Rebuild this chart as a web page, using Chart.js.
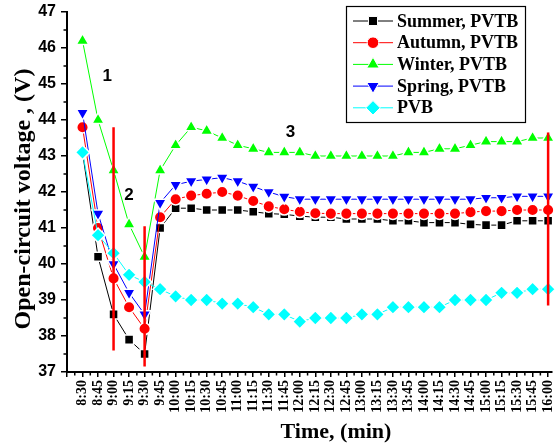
<!DOCTYPE html>
<html>
<head>
<meta charset="utf-8">
<script src="https://cdn.jsdelivr.net/npm/chart.js@4.4.0/dist/chart.umd.min.js"></script>
<style>
  html, body { margin: 0; padding: 0; background: #fff; }
</style>
</head>
<body>
<canvas id="myChart" width="555" height="448"></canvas>
<script>
// time of day, one reading every 15 minutes
const times = ['8:30', '8:45', '9:00', '9:15', '9:30', '9:45', '10:00', '10:15', '10:30', '10:45',
  '11:00', '11:15', '11:30', '11:45', '12:00', '12:15', '12:30', '12:45', '13:00', '13:15',
  '13:30', '13:45', '14:00', '14:15', '14:30', '14:45', '15:00', '15:15', '15:30', '15:45', '16:00'];

// open-circuit voltage (V)
const summer = [43.1, 40.2, 38.6, 37.9, 37.5, 41.0, 41.55, 41.55, 41.5, 41.5, 41.5, 41.45, 41.4, 41.38,
  41.33, 41.3, 41.3, 41.25, 41.25, 41.25, 41.2, 41.2, 41.15, 41.15, 41.15, 41.1, 41.08, 41.08, 41.2, 41.2, 41.2];
const autumn = [43.8, 41.0, 39.6, 38.8, 38.2, 41.3, 41.8, 41.9, 41.95, 42.0, 41.9, 41.75, 41.6, 41.52,
  41.45, 41.41, 41.4, 41.4, 41.4, 41.4, 41.4, 41.4, 41.4, 41.4, 41.4, 41.44, 41.47, 41.47, 41.5, 41.5, 41.5];
const winter = [46.2, 44.0, 42.6, 41.1, 40.2, 42.6, 43.3, 43.8, 43.7, 43.5, 43.3, 43.2, 43.1, 43.1,
  43.1, 43.0, 43.0, 43.0, 43.0, 43.0, 43.0, 43.1, 43.1, 43.2, 43.2, 43.3, 43.4, 43.4, 43.4, 43.5, 43.5];
const spring = [44.2, 41.4, 40.0, 39.2, 38.6, 41.7, 42.2, 42.3, 42.35, 42.4, 42.3, 42.15, 42.0, 41.87,
  41.8, 41.8, 41.8, 41.8, 41.8, 41.8, 41.8, 41.8, 41.8, 41.8, 41.8, 41.8, 41.84, 41.84, 41.88, 41.88, 41.88];
const pvb = [43.1, 40.8, 40.3, 39.7, 39.5, 39.3, 39.1, 39.0, 39.0, 38.9, 38.9, 38.8, 38.6, 38.6,
  38.4, 38.5, 38.5, 38.5, 38.6, 38.6, 38.8, 38.8, 38.8, 38.8, 39.0, 39.0, 39.0, 39.2, 39.2, 39.3, 39.3];

// red vertical markers (position on time axis, top and bottom voltage)
const markerX = [2, 4, 30];
const markerTop = [43.8, 41.05, 43.65];
const markerBottom = [37.6, 37.15, 38.85];

// region numbers
const noteText = ['1', '2', '3'];
const noteX = [1.6, 3.0, 13.4];
const noteY = [45.2, 41.9, 43.65];

const serif = 'Liberation Serif, Times New Roman, serif';
const sans = 'Liberation Sans, Arial, sans-serif';

function series(label, values, color, style, radius, rotation, order) {
  return {
    label: label,
    data: values.map((v, i) => ({ x: i, y: v })),
    borderColor: color,
    backgroundColor: color,
    borderWidth: 1,
    pointStyle: style,
    pointRadius: radius,
    pointHoverRadius: radius,
    pointRotation: rotation,
    pointBackgroundColor: color,
    pointBorderColor: '#fff',
    pointBorderWidth: 1.5,
    tension: 0,
    clip: false,
    order: order
  };
}

const datasets = [
  series('Summer, PVTB', summer, '#000000', 'rect', 6.4, 0, 5),
  series('Autumn, PVTB', autumn, '#ff0000', 'circle', 5.8, 0, 4),
  series('Winter, PVTB', winter, '#00ff00', 'triangle', 7.2, 0, 3),
  series('Spring, PVTB', spring, '#0000ff', 'triangle', 7.2, 180, 2),
  series('PVB', pvb, '#00ffff', 'rectRot', 7.2, 0, 1)
];

for (let i = 0; i < markerX.length; i++) {
  datasets.push({
    data: [{ x: markerX[i], y: markerTop[i] }, { x: markerX[i], y: markerBottom[i] }],
    borderColor: '#ff0000',
    borderWidth: 2.5,
    pointRadius: 0,
    order: 0
  });
}

// small ticks between the labelled ones
const minorTicks = {
  id: 'minorTicks',
  afterDraw(chart) {
    const { ctx, scales: { x, y } } = chart;
    ctx.save();
    ctx.strokeStyle = '#000';
    ctx.lineWidth = 1.5;
    ctx.beginPath();
    for (let v = -0.5; v < x.max; v += 1) {
      const px = x.getPixelForValue(v);
      ctx.moveTo(px, x.top);
      ctx.lineTo(px, x.top + 3.5);
    }
    for (let v = 37.5; v < y.max; v += 1) {
      const py = y.getPixelForValue(v);
      ctx.moveTo(y.right, py);
      ctx.lineTo(y.right - 3.5, py);
    }
    ctx.stroke();
    ctx.restore();
  }
};

// axis titles and the 1/2/3 region numbers
const texts = {
  id: 'texts',
  afterDraw(chart) {
    const { ctx, scales: { x, y } } = chart;
    ctx.save();
    ctx.fillStyle = '#000';
    ctx.textAlign = 'center';
    ctx.textBaseline = 'middle';
    ctx.font = 'bold 22px ' + serif;
    ctx.fillText('Time, (min)', 336, 432);
    ctx.save();
    ctx.translate(24, 199);
    ctx.rotate(-Math.PI / 2);
    ctx.font = 'bold 24px ' + serif;
    ctx.fillText('Open-circuit voltage , (V)', 0, 0);
    ctx.restore();
    ctx.font = 'bold 17px ' + sans;
    for (let i = 0; i < noteText.length; i++) {
      ctx.fillText(noteText[i], x.getPixelForValue(noteX[i]), y.getPixelForValue(noteY[i]));
    }
    ctx.restore();
  }
};

// boxed legend with line + symbol for each season
const boxLegend = {
  id: 'boxLegend',
  afterDraw(chart) {
    const ctx = chart.ctx;
    const items = chart.data.datasets.filter(d => d.label);
    const left = 346, top = 6, w = 179, rowH = 21.7;
    ctx.save();
    ctx.fillStyle = '#fff';
    ctx.fillRect(left, top, w, 116);
    ctx.strokeStyle = '#000';
    ctx.lineWidth = 1.2;
    ctx.strokeRect(left + 0.5, top + 0.5, w, 116);
    items.forEach((d, i) => {
      const cy = top + 15 + i * rowH;
      ctx.strokeStyle = d.borderColor;
      ctx.lineWidth = 1;
      ctx.beginPath();
      ctx.moveTo(353, cy);
      ctx.lineTo(393, cy);
      ctx.stroke();
      ctx.fillStyle = d.pointBackgroundColor;
      ctx.strokeStyle = '#fff';
      Chart.helpers.drawPoint(ctx, {
        pointStyle: d.pointStyle,
        radius: d.pointRadius,
        rotation: d.pointRotation,
        borderWidth: d.pointBorderWidth
      }, 373, cy);
      ctx.fillStyle = '#000';
      ctx.font = 'bold 18px ' + serif;
      ctx.textAlign = 'left';
      ctx.textBaseline = 'middle';
      ctx.fillText(d.label, 397, cy + 1);
    });
    ctx.restore();
  }
};

const ctx = document.getElementById('myChart').getContext('2d');
const chart = new Chart(ctx, {
  type: 'line',
  data: { datasets: datasets },
  plugins: [minorTicks, texts, boxLegend],
  options: {
    responsive: false,
    animation: false,
    layout: { autoPadding: false, padding: { top: 12, right: 3, left: 0, bottom: 0 } },
    plugins: {
      legend: { display: false },
      tooltip: { enabled: false }
    },
    scales: {
      x: {
        type: 'linear',
        min: -1,
        max: 30.25,
        afterFit(scale) {
          scale.height = 76;
          scale.paddingLeft = 0;
          scale.paddingRight = 0;
        },
        ticks: {
          stepSize: 1,
          includeBounds: false,
          autoSkip: false,
          minRotation: 90,
          maxRotation: 90,
          padding: 3,
          color: '#000',
          font: { family: serif, weight: 'bold', size: 14 },
          callback: (v) => times[v] || ''
        },
        grid: { drawOnChartArea: false, tickLength: 5, color: '#000', lineWidth: 1.5 },
        border: { color: '#000', width: 2 }
      },
      y: {
        min: 37,
        max: 47,
        afterFit(scale) {
          scale.width = 67;
          scale.paddingTop = 0;
          scale.paddingBottom = 0;
        },
        ticks: {
          stepSize: 1,
          padding: 5,
          color: '#000',
          font: { family: sans, weight: 'bold', size: 16 }
        },
        grid: { drawOnChartArea: false, tickLength: 6, color: '#000', lineWidth: 1.5 },
        border: { color: '#000', width: 2 }
      }
    }
  }
});
</script>
</body>
</html>
